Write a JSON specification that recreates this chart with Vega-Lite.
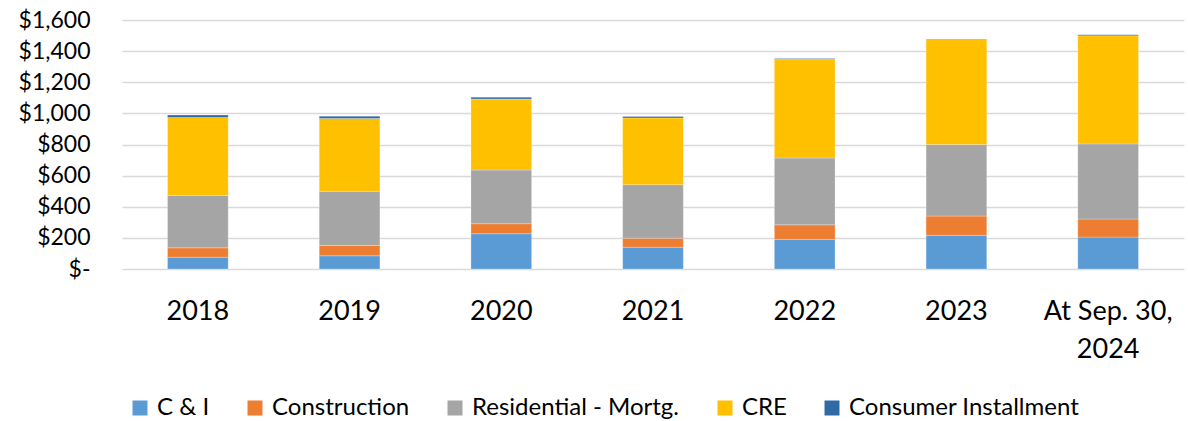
{
  "$schema": "https://vega.github.io/schema/vega-lite/v6.json",
  "autosize": {"type": "none"},
  "padding": {"left": 122, "top": 20, "right": 4, "bottom": 152},
  "width": 1062,
  "height": 249,
  "background": "#ffffff",
  "config": {
    "view": {"stroke": null},
    "font": "Lato",
    "axis": {"labelFont": "Lato", "labelColor": "#000000"},
    "legend": {"labelFont": "Lato"}
  },
  "data": {
    "values": [
      {"period": "2018", "type": "C & I", "amount": 76},
      {"period": "2018", "type": "Construction", "amount": 60},
      {"period": "2018", "type": "Residential - Mortg.", "amount": 337},
      {"period": "2018", "type": "CRE", "amount": 501},
      {"period": "2018", "type": "Consumer Installment", "amount": 15},
      {"period": "2019", "type": "C & I", "amount": 85},
      {"period": "2019", "type": "Construction", "amount": 66},
      {"period": "2019", "type": "Residential - Mortg.", "amount": 348},
      {"period": "2019", "type": "CRE", "amount": 468},
      {"period": "2019", "type": "Consumer Installment", "amount": 15},
      {"period": "2020", "type": "C & I", "amount": 227},
      {"period": "2020", "type": "Construction", "amount": 64},
      {"period": "2020", "type": "Residential - Mortg.", "amount": 345},
      {"period": "2020", "type": "CRE", "amount": 456},
      {"period": "2020", "type": "Consumer Installment", "amount": 12},
      {"period": "2021", "type": "C & I", "amount": 140},
      {"period": "2021", "type": "Construction", "amount": 58},
      {"period": "2021", "type": "Residential - Mortg.", "amount": 344},
      {"period": "2021", "type": "CRE", "amount": 429},
      {"period": "2021", "type": "Consumer Installment", "amount": 9},
      {"period": "2022", "type": "C & I", "amount": 190},
      {"period": "2022", "type": "Construction", "amount": 94},
      {"period": "2022", "type": "Residential - Mortg.", "amount": 429},
      {"period": "2022", "type": "CRE", "amount": 634},
      {"period": "2022", "type": "Consumer Installment", "amount": 6},
      {"period": "2023", "type": "C & I", "amount": 216},
      {"period": "2023", "type": "Construction", "amount": 124},
      {"period": "2023", "type": "Residential - Mortg.", "amount": 460},
      {"period": "2023", "type": "CRE", "amount": 674},
      {"period": "2023", "type": "Consumer Installment", "amount": 4},
      {"period": "At Sep. 30, 2024", "type": "C & I", "amount": 205},
      {"period": "At Sep. 30, 2024", "type": "Construction", "amount": 116},
      {"period": "At Sep. 30, 2024", "type": "Residential - Mortg.", "amount": 483},
      {"period": "At Sep. 30, 2024", "type": "CRE", "amount": 695},
      {"period": "At Sep. 30, 2024", "type": "Consumer Installment", "amount": 7}
    ]
  },
  "transform": [
    {"calculate": "indexof(['C & I', 'Construction', 'Residential - Mortg.', 'CRE', 'Consumer Installment'], datum.type)", "as": "stackRank"}
  ],
  "mark": {"type": "bar", "stroke": "#ffffff", "strokeWidth": 0.5, "strokeOpacity": 0.5},
  "encoding": {
    "x": {
      "field": "period",
      "type": "nominal",
      "sort": null,
      "scale": {"paddingInner": 0.6, "paddingOuter": 0.3},
      "axis": {
        "title": null,
        "labelAngle": 0,
        "labelFontSize": 27,
        "labelPadding": 29,
        "labelLineHeight": 38,
        "ticks": false,
        "domain": false,
        "labelExpr": "datum.value == 'At Sep. 30, 2024' ? ['At Sep. 30,', '2024'] : datum.value"
      }
    },
    "y": {
      "field": "amount",
      "type": "quantitative",
      "aggregate": "sum",
      "stack": "zero",
      "scale": {"domain": [0, 1600], "nice": false},
      "axis": {
        "title": null,
        "values": [0, 200, 400, 600, 800, 1000, 1200, 1400, 1600],
        "labelFontSize": 23,
        "labelPadding": 32,
        "ticks": false,
        "domain": false,
        "gridColor": "#d9d9d9",
        "gridWidth": 1.5,
        "labelExpr": "datum.value == 0 ? '$-\u00a0\u00a0' : '$' + format(datum.value, ',')"
      }
    },
    "color": {
      "field": "type",
      "type": "nominal",
      "sort": ["C & I", "Construction", "Residential - Mortg.", "CRE", "Consumer Installment"],
      "scale": {
        "domain": ["C & I", "Construction", "Residential - Mortg.", "CRE", "Consumer Installment"],
        "range": ["#5B9BD5", "#ED7D31", "#A5A5A5", "#FFC000", "#2F6AA5"]
      },
      "legend": {
        "title": null,
        "orient": "none",
        "direction": "horizontal",
        "legendX": 6,
        "legendY": 376,
        "symbolType": "square",
        "symbolSize": 225,
        "symbolStrokeWidth": 0,
        "symbolOpacity": 1,
        "labelFontSize": 24,
        "labelColor": "#000000",
        "labelOffset": 5,
        "columnPadding": 33,
        "labelLimit": 400,
        "labelExpr": "datum.label == 'Residential - Mortg.' ? '\u00a0\u00a0\u00a0' + datum.label : datum.label"
      }
    },
    "order": {"field": "stackRank", "type": "quantitative", "sort": "ascending"}
  }
}
